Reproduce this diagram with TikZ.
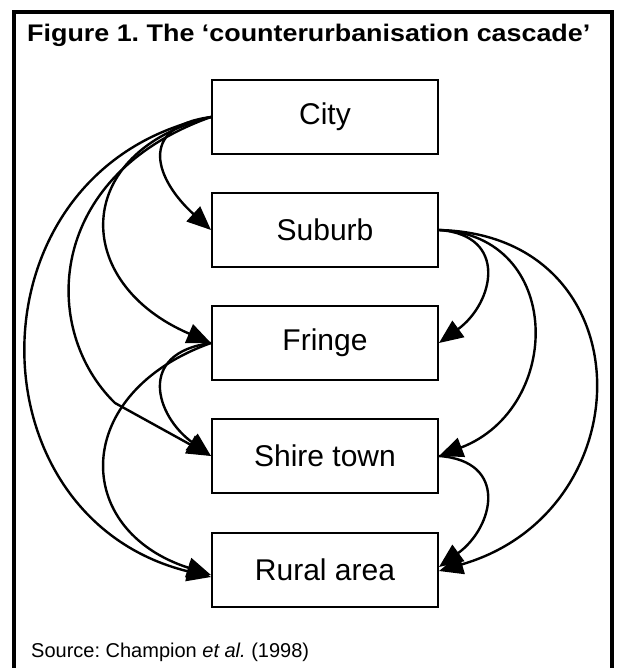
\documentclass[tikz,border=0pt]{standalone}
\usepackage{fontspec}
\setmainfont{Liberation Sans}
\usetikzlibrary{arrows.meta}
\frenchspacing
\begin{document}
\begin{tikzpicture}[x=1pt,y=-1pt,
  place/.style={draw,line width=2pt,minimum width=226pt,minimum height=74pt,inner sep=0pt,font=\fontsize{30}{36}\selectfont},
  flow/.style={line width=2.4pt,-{Triangle[length=24pt,width=20pt]}},
  frame/.style={line width=4.5pt}
]
\useasboundingbox (0,0) rectangle (617,668);
\draw[frame] (14,672) -- (14,12) -- (612,12) -- (612,672);
\node[anchor=base west,inner sep=0pt,font=\bfseries\fontsize{24}{28}\selectfont] (title) at (27,42) {\scalebox{1.12}[1]{Figure 1. The ‘counterurbanisation cascade’}};
\node[anchor=base west,inner sep=0pt,font=\fontsize{20}{24}\selectfont] (source) at (31,657) {Source: Champion \textit{et al.} (1998)};

\node[place] (city) at (325,117) {City};
\node[place] (suburb) at (325,230) {Suburb};
\node[place] (fringe) at (325,343) {Fringe};
\node[place] (shire) at (325,456) {Shire town};
\node[place] (rural) at (325,570) {Rural area};

\coordinate (kink) at (115,403);

\draw[flow] (city.west) .. controls +(-75,10) and +(-55,-50) .. (suburb.west);
\draw[flow] (city.west) .. controls +(-140,35) and +(-140,-60) .. (fringe.west);
\draw[flow] (city.west) .. controls (45,176) and (40,330) .. (kink) -- (shire.west);
\draw[flow] (city.west) .. controls +(-245,50) and +(-245,-60) .. ([yshift=-7pt]rural.west);
\draw[flow] (fringe.west) .. controls +(-75,10) and +(-55,-40) .. (shire.west);
\draw[flow] (fringe.west) .. controls +(-140,50) and +(-140,-45) .. ([yshift=-5pt]rural.west);

\draw[flow] (suburb.east) .. controls +(70,5) and +(55,-40) .. (fringe.east);
\draw[flow] (suburb.east) .. controls +(125,5) and +(125,-48) .. (shire.east);
\draw[flow] (suburb.east) .. controls +(207,5) and +(207,-60) .. ([yshift=-1pt]rural.east);
\draw[flow] (shire.east) .. controls +(70,5) and +(55,-40) .. ([yshift=3pt]rural.east);
\end{tikzpicture}
\end{document}
